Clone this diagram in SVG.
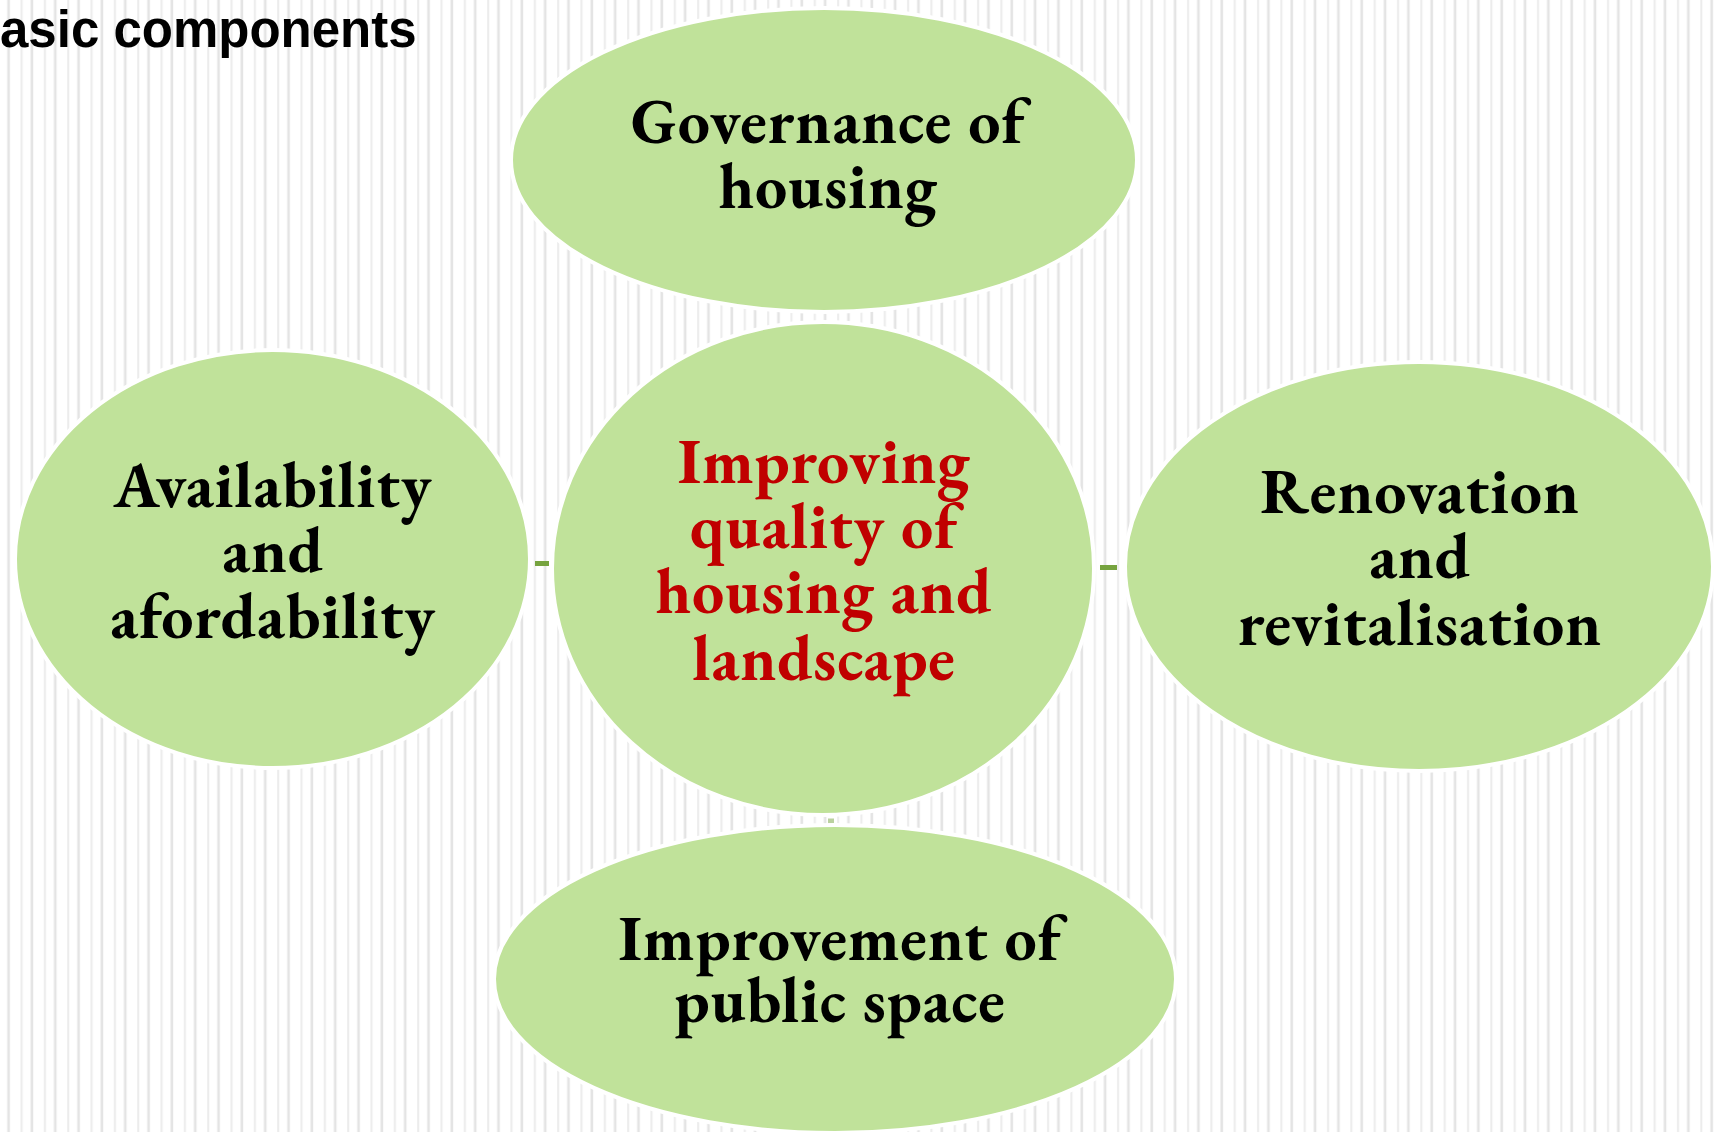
<svg xmlns="http://www.w3.org/2000/svg" width="1715" height="1132" viewBox="0 0 1715 1132">
  <defs>
    <pattern id="stripes" x="0" y="0" width="23.33" height="40" patternUnits="userSpaceOnUse">
      <rect x="0" y="0" width="23.33" height="40" fill="#ffffff"/>
      <rect x="7.3" y="0" width="2.6" height="40" fill="#e4e4e4"/>
      <rect x="20.6" y="0" width="2" height="40" fill="#ececec"/>
    </pattern>
    <style>
      .node { fill: #c0e29a; stroke: #ffffff; stroke-width: 4; }
      .lbl { font-family: "EB Garamond", Garamond, "Liberation Serif", serif; font-weight: bold; font-size: 64px; letter-spacing: 0.8px; text-anchor: middle; fill: #000000; }
      .center { fill: #c00000; }
      .conn { stroke: #76a33f; stroke-width: 5; fill: none; }
      .title { font-family: "Liberation Sans", Arial, sans-serif; font-weight: bold; font-size: 51px; fill: #000000; }
    </style>
  </defs>
  <rect x="0" y="0" width="1715" height="1132" fill="url(#stripes)"/>
  <text class="title" x="0" y="47">asic components</text>

  <g id="connectors">
    <line class="conn" x1="535" y1="563.5" x2="549" y2="563.5"/>
    <line class="conn" x1="1100" y1="567.5" x2="1117" y2="567.5"/>
    <line class="conn" x1="828" y1="821" x2="834" y2="821" stroke-width="2" opacity="0.5"/>
  </g>

  <g id="node-governance">
    <ellipse class="node" cx="824" cy="160" rx="313" ry="152"/>
    <text class="lbl" x="828" y="143"><tspan x="828" y="143">Governance of</tspan><tspan x="828" y="208">housing</tspan></text>
  </g>

  <g id="node-availability">
    <ellipse class="node" cx="272.5" cy="559" rx="257.5" ry="209"/>
    <text class="lbl" x="273" y="507"><tspan x="273" y="507">Availability</tspan><tspan x="273" y="572">and</tspan><tspan x="273" y="638">afordability</tspan></text>
  </g>

  <g id="node-renovation">
    <ellipse class="node" cx="1419" cy="566.5" rx="294" ry="204.5"/>
    <text class="lbl" x="1420" y="513"><tspan x="1420" y="513">Renovation</tspan><tspan x="1420" y="578">and</tspan><tspan x="1420" y="645">revitalisation</tspan></text>
  </g>

  <g id="node-public-space">
    <ellipse class="node" cx="835" cy="979" rx="341" ry="154"/>
    <text class="lbl" x="840" y="960"><tspan x="840" y="960">Improvement of</tspan><tspan x="840" y="1022">public space</tspan></text>
  </g>

  <g id="node-center">
    <ellipse class="node" cx="823" cy="568.5" rx="271" ry="246.5"/>
    <text class="lbl center" x="824" y="483"><tspan x="824" y="483">Improving</tspan><tspan x="824" y="548">quality of</tspan><tspan x="824" y="613">housing and</tspan><tspan x="824" y="680">landscape</tspan></text>
  </g>
</svg>
